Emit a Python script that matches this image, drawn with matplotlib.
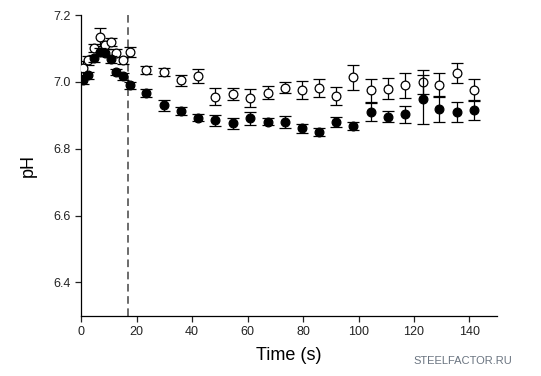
import numpy as np
import matplotlib.pyplot as plt

plt.rcParams['font.family'] = ['Liberation Sans', 'DejaVu Sans']

# time points (s)
time = [0.5, 2.4, 4.6, 6.8, 8.5, 10.6, 12.7, 15.0, 17.5,
        23.4, 29.7, 35.9, 42.2, 48.4, 54.7, 60.8, 67.2, 73.5, 79.5,
        85.6, 91.9, 98.1, 104.5, 110.8, 116.9, 123.2, 129.2, 135.6, 141.8]

# open circles
ph_open = [7.042, 7.064, 7.100, 7.133, 7.110, 7.118, 7.087, 7.064, 7.089,
           7.035, 7.029, 7.005, 7.019, 6.956, 6.964, 6.953, 6.968, 6.983, 6.976,
           6.983, 6.958, 7.014, 6.975, 6.980, 6.990, 7.000, 6.990, 7.027, 6.976]
err_open = [0.020, 0.012, 0.012, 0.027, 0.012, 0.012, 0.012, 0.011, 0.016,
            0.012, 0.012, 0.016, 0.021, 0.026, 0.019, 0.027, 0.019, 0.017, 0.026,
            0.027, 0.026, 0.038, 0.034, 0.031, 0.037, 0.036, 0.036, 0.029, 0.032]

# filled circles
ph_filled = [7.007, 7.020, 7.070, 7.090, 7.087, 7.067, 7.030, 7.017, 6.990,
             6.968, 6.930, 6.913, 6.893, 6.885, 6.876, 6.891, 6.881, 6.880, 6.861,
             6.849, 6.880, 6.868, 6.910, 6.896, 6.903, 6.948, 6.920, 6.910, 6.916]
err_filled = [0.012, 0.010, 0.010, 0.010, 0.010, 0.010, 0.010, 0.010, 0.010,
              0.012, 0.017, 0.013, 0.010, 0.016, 0.016, 0.020, 0.010, 0.019, 0.013,
              0.012, 0.014, 0.012, 0.028, 0.017, 0.025, 0.073, 0.039, 0.030, 0.030]

x_ticks = [0, 20, 40, 60, 80, 100, 120, 140]
y_ticks = [6.4, 6.6, 6.8, 7.0, 7.2]
switch_time = 17

fig = plt.figure(figsize=(5.41, 3.76), dpi=100)
ax = fig.add_axes([0.15, 0.16, 0.769, 0.80])

ax.errorbar(time, ph_open, yerr=err_open, fmt='o', mfc='white', mec='black',
            color='black', ms=6.3, mew=0.9, elinewidth=0.9, capsize=4, capthick=0.9, zorder=3)
ax.errorbar(time, ph_filled, yerr=err_filled, fmt='o', mfc='black', mec='black',
            color='black', ms=6.3, mew=0.9, elinewidth=0.9, capsize=4, capthick=0.9, zorder=4)

ax.axvline(switch_time, color='#444444', linestyle=(0, (5, 3)), linewidth=1.1, zorder=2)

ax.set_xlim(0, 150)
ax.set_ylim(6.3, 7.2)
ax.set_xticks(x_ticks)
ax.set_yticks(y_ticks)
ax.set_yticklabels([f'{v:.1f}' for v in y_ticks])
ax.tick_params(labelsize=9, direction='out', length=4, width=0.9, colors='#222222')
for s in ['top', 'right']:
    ax.spines[s].set_visible(False)
for s in ['left', 'bottom']:
    ax.spines[s].set_linewidth(0.9)

ax.set_xlabel('Time (s)', fontsize=13, labelpad=6)
ax.set_ylabel('pH', fontsize=13, labelpad=12)

fig.text(0.946, 0.04, 'STEELFACTOR.RU', color='#6a7480', fontsize=8,
         family=['Liberation Sans Narrow', 'Liberation Sans'],
         ha='right', va='center')

fig.savefig('out.png', dpi=100)
